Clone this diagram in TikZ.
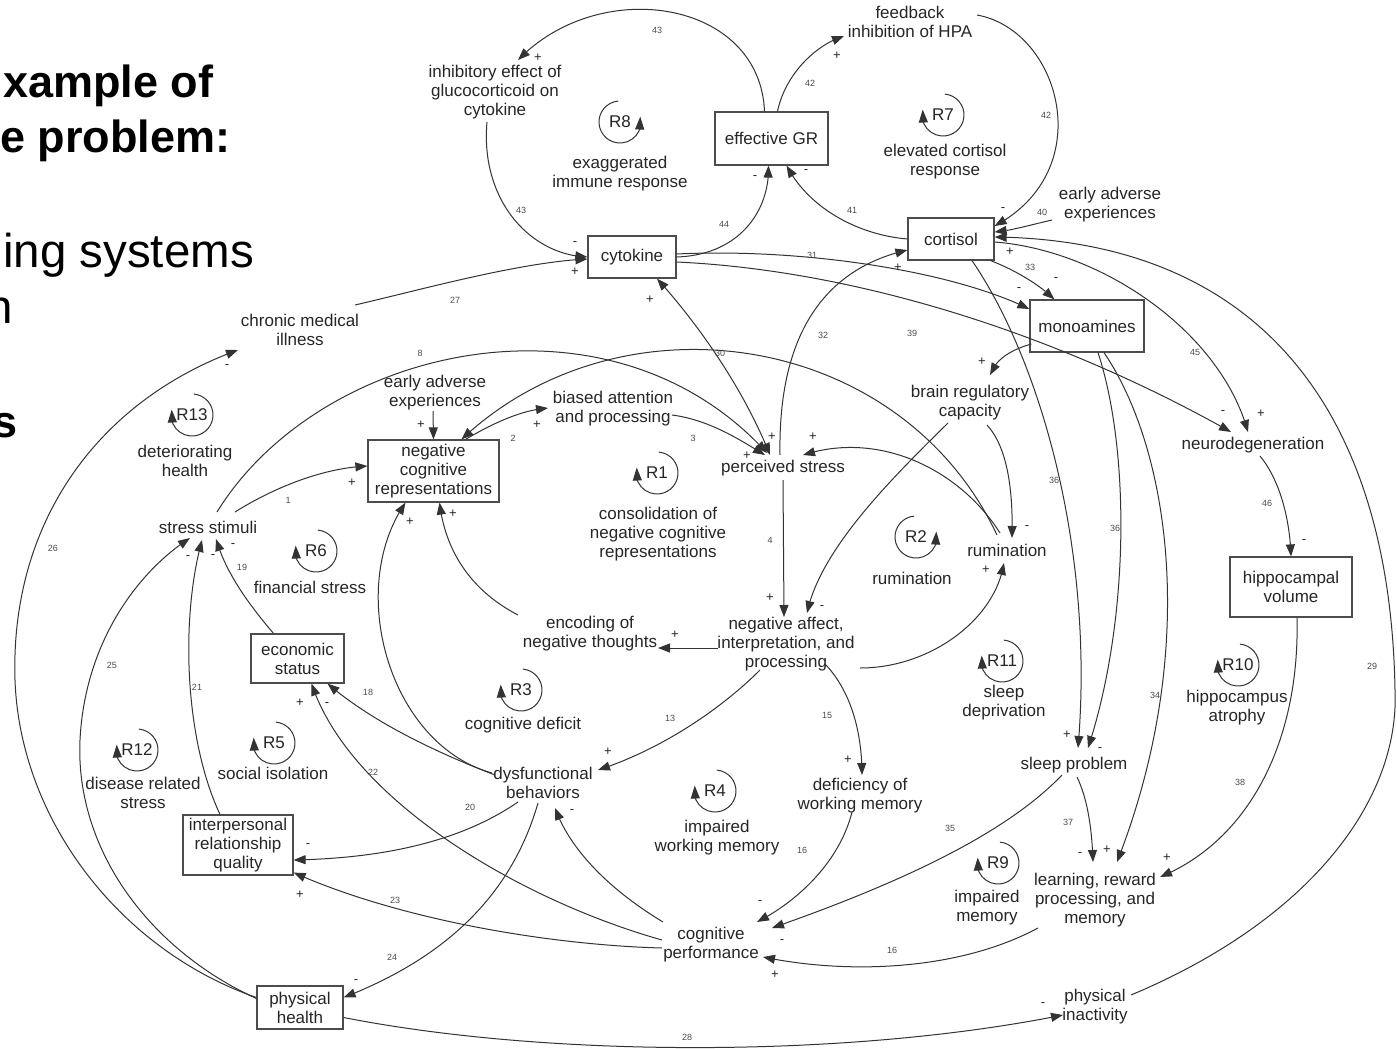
\documentclass[tikz,border=0pt]{standalone}
\usepackage{fontspec}
\setmainfont{Liberation Sans}
\usepackage{tikz}
\usetikzlibrary{arrows.meta,bending,calc}

\tikzset{
	var/.style={align=center,inner sep=1pt,font=\fontsize{17}{19}\selectfont,text=black!85},
	lvl/.style={var,draw=black!70,line width=1.2pt,fill=white,inner sep=0pt},
	link/.style={draw=black!80,line width=1pt,-{Triangle[length=12pt,width=9pt]}},
	twoway/.style={link,{Triangle[length=12pt,width=9pt]}-{Triangle[length=12pt,width=9pt]}},
	num/.style={inner sep=0pt,font=\fontsize{9}{9}\selectfont,text=black!70},
	pol/.style={inner sep=0pt,font=\fontsize{13}{13}\selectfont,text=black!85},
	loopname/.style={var,inner sep=0pt},
	looparrow/.style={draw=black!80,line width=1pt,-{Triangle[length=13pt,width=9pt,flex]}},
	headline/.style={anchor=base west,inner sep=0pt,font=\fontsize{47.5}{54}\selectfont},
	boldhead/.style={anchor=base west,inner sep=0pt,font=\fontsize{45}{54}\selectfont\bfseries}
}

\begin{document}
\begin{tikzpicture}[x=1pt,y=1pt]
	\useasboundingbox[fill=white] (0,0) rectangle (1397,-1049);

	\node[boldhead](T1) at (3,-97) {xample of};
	\node[boldhead](T2) at (0,-152) {e problem:};
	\node[headline](T3) at (3,-267) {ing systems};
	\node[headline](T4) at (-14,-323) {n};
	\node[boldhead](T5) at (-8,-437) {s};

	\node[var](FB) at (910,-22) {feedback\\inhibition of HPA};
	\node[var](IEG) at (495,-92) {inhibitory effect of\\glucocorticoid on\\cytokine};
	\node[lvl,minimum width=113,minimum height=53](EGR) at (771.5,-138.5) {effective GR};
	\node[var](EAE1) at (1110,-205) {early adverse\\experiences};
	\node[lvl,minimum width=86,minimum height=42](CORT) at (951,-239) {cortisol};
	\node[lvl,minimum width=88,minimum height=42](CYT) at (632,-257) {cytokine};
	\node[lvl,minimum width=114,minimum height=52](MONO) at (1087,-326) {monoamines};
	\node[var](CMI) at (300,-330) {chronic medical\\illness};
	\node[var](EAE2) at (435,-393) {early adverse\\experiences};
	\node[var](BAP) at (613,-409) {biased attention\\and processing};
	\node[lvl,minimum width=131,minimum height=62](NCR) at (433.5,-471) {negative\\cognitive\\representations};
	\node[var](PS) at (783,-468) {perceived stress};
	\node[var](BRC) at (970,-403) {brain regulatory\\capacity};
	\node[var](ND) at (1253,-445) {neurodegeneration};
	\node[var](SS) at (208,-527) {stress stimuli};
	\node[var](RUM) at (1007,-550) {rumination};
	\node[lvl,minimum width=122,minimum height=60](HV) at (1291,-587) {hippocampal\\volume};
	\node[lvl,minimum width=93,minimum height=49](ES) at (297.5,-658.5) {economic\\status};
	\node[var](ENT) at (590,-634) {encoding of\\negative thoughts};
	\node[var](NA) at (786,-644) {negative affect,\\interpretation, and\\processing};
	\node[var](DYS) at (543,-783) {dysfunctional\\behaviors};
	\node[var](DWM) at (860,-796) {deficiency of\\working memory};
	\node[var](SP) at (1074,-765) {sleep problem};
	\node[lvl,minimum width=110,minimum height=60](IRQ) at (238,-845) {interpersonal\\relationship\\quality};
	\node[var](LRM) at (1095,-900) {learning, reward\\processing, and\\memory};
	\node[var](CP) at (711,-945) {cognitive\\performance};
	\node[lvl,minimum width=86,minimum height=43](PH) at (300,-1007.5) {physical\\health};
	\node[var](PI) at (1095,-1007) {physical\\inactivity};

	\node[loopname](R8) at (620,-122) {R8};
	\node[loopname](R7) at (943,-115) {R7};
	\node[loopname](R13) at (192,-415) {R13};
	\node[loopname](R1) at (657,-473) {R1};
	\node[loopname](R6) at (316,-551) {R6};
	\node[loopname](R2) at (916,-537) {R2};
	\node[loopname](R11) at (1002,-661) {R11};
	\node[loopname](R10) at (1238,-665) {R10};
	\node[loopname](R3) at (521,-690) {R3};
	\node[loopname](R12) at (137,-750) {R12};
	\node[loopname](R5) at (274,-743) {R5};
	\node[loopname](R4) at (715,-791) {R4};
	\node[loopname](R9) at (998,-863) {R9};
	\foreach \r in {R8,R2}
		\draw[looparrow] ($(\r)+(95:21)$) arc[start angle=95,end angle=375,radius=21];
	\foreach \r in {R7,R13,R1,R6,R11,R10,R3,R12,R5,R4,R9}
		\draw[looparrow] ($(\r)+(85:21)$) arc[start angle=85,end angle=-195,radius=21];

	\node[var](L8) at (620,-174) {exaggerated\\immune response};
	\node[var](L7) at (945,-162) {elevated cortisol\\response};
	\node[var](L13) at (185,-461) {deteriorating\\health};
	\node[var](L1) at (658,-534) {consolidation of\\negative cognitive\\representations};
	\node[var](L6) at (310,-587) {financial stress};
	\node[var](L2) at (912,-578) {rumination};
	\node[var](L11) at (1004,-703) {sleep\\deprivation};
	\node[var](L10) at (1237,-708) {hippocampus\\atrophy};
	\node[var](L3) at (523,-725) {cognitive deficit};
	\node[var](L12) at (143,-793) {disease related\\stress};
	\node[var](L5) at (273,-773) {social isolation};
	\node[var](L4) at (717,-838) {impaired\\working memory};
	\node[var](L9) at (987,-908) {impaired\\memory};

	\draw[link] ($(EGR.north)+(-7,0)$) .. controls (760,0) and (600,25) .. ($(IEG)+(23,32)$);
	\draw[link] ($(IEG)+(-8,-30)$) .. controls (480,-200) and (530,-255) .. (CYT.west);
	\draw[link] (CYT.east) .. controls (740,-255) and (770,-210) .. ($(EGR.south)+(-3,0)$);
	\draw[link] ($(EGR.north)+(6,0)$) .. controls (785,-75) and (815,-45) .. ($(FB)+(-66,-14)$);
	\draw[link] ($(FB)+(67,7)$) .. controls (1060,-30) and (1100,-170) .. ($(CORT.east)+(0,13)$);
	\draw[link] ($(EAE1)+(-58,-15)$) .. controls (1030,-225) and (1010,-231) .. ($(CORT.east)+(0,7)$);
	\draw[link] (CORT.west) .. controls (860,-235) and (810,-210) .. ($(EGR.south)+(15,0)$);
	\draw[link] ($(CYT.east)+(0,3)$) .. controls (800,-248) and (950,-270) .. ($(MONO.west)+(0,17)$);
	\draw[link] ($(CYT.east)+(0,-5)$) .. controls (850,-270) and (1050,-330) .. ($(ND)+(-22,13)$);
	\draw[link] ($(CORT.south east)+(-4,0)$) .. controls (1015,-270) and (1040,-285) .. ($(MONO.north west)+(25,0)$);
	\draw[link] ($(CORT.east)+(0,-3)$) .. controls (1100,-250) and (1220,-330) .. ($(ND)+(-5,13)$);
	\draw[link] ($(PI)+(36,12)$) .. controls (1310,-920) and (1400,-800) .. (1395,-690) .. controls (1390,-400) and (1250,-240) .. ($(CORT.east)+(0,2)$);
	\draw[link] ($(ND)+(7,-11)$) .. controls (1280,-480) and (1290,-520) .. (HV.north);
	\draw[link] ($(HV.south)+(6,0)$) .. controls (1300,-740) and (1250,-840) .. ($(LRM)+(65,23)$);
	\draw[link] ($(CORT.south)+(21,0)$) .. controls (1040,-360) and (1095,-550) .. ($(SP)+(4,17)$);
	\draw[link] ($(MONO.south)+(11,0)$) .. controls (1130,-450) and (1130,-620) .. ($(SP)+(14,17)$);
	\draw[link] ($(MONO.south)+(17,0)$) .. controls (1170,-450) and (1200,-650) .. ($(LRM)+(22,38)$);
	\draw[link] ($(SP)+(3,-12)$) .. controls (1088,-800) and (1092,-830) .. ($(LRM)+(-2,38)$);
	\draw[link] ($(SP)+(-12,-10)$) .. controls (1000,-840) and (880,-890) .. ($(CP)+(61,17)$);
	\draw[link] ($(DWM)+(-8,-16)$) .. controls (840,-860) and (800,-900) .. ($(CP)+(46,23)$);
	\draw[link] ($(LRM)+(-57,-28)$) .. controls (960,-970) and (850,-975) .. ($(CP)+(52,-12)$);
	\draw[link] ($(NA)+(39,-20)$) .. controls (850,-690) and (862,-730) .. ($(DWM)+(2,21)$);
	\draw[link] ($(NA)+(-26,-26)$) .. controls (720,-710) and (660,-750) .. ($(DYS)+(55,13)$);
	\draw[link] ($(PS)+(0,-12)$) -- ($(NA)+(-2,27)$);
	\draw[link] ($(BRC)+(-22,-20)$) .. controls (890,-480) and (820,-550) .. ($(NA)+(21,31)$);
	\draw[link] ($(BRC)+(17,-22)$) .. controls (1010,-450) and (1013,-500) .. ($(RUM)+(5,12)$);
	\draw[link] ($(RUM)+(-7,17)$) .. controls (960,-470) and (880,-430) .. ($(PS)+(20,13)$);
	\draw[link] ($(RUM)+(-10,15)$) .. controls (900,-330) and (620,-290) .. ($(NCR.north)+(28,0)$);
	\draw[link] ($(SS)+(9,15)$) .. controls (320,-345) and (610,-280) .. ($(PS)+(-16,15)$);
	\draw[link] ($(BAP)+(59,-6)$) .. controls (710,-420) and (740,-440) .. ($(PS)+(-18,13)$);
	\draw[twoway] ($(CYT.south)+(25,0)$) .. controls (690,-315) and (740,-380) .. ($(PS)+(-13,13)$);
	\draw[link] ($(PS)+(-3,13)$) .. controls (778,-340) and (820,-270) .. ($(CORT.west)+(0,-11)$);
	\draw[link] ($(NCR.north)+(32,0)$) .. controls (490,-425) and (520,-410) .. ($(BAP)+(-65,1)$);
	\draw[link] ($(EAE2)+(-2,-18)$) -- (NCR.north);
	\draw[link] ($(SS)+(27,15)$) .. controls (270,-490) and (320,-468) .. ($(NCR.west)+(0,5)$);
	\draw[link] ($(ENT)+(-72,19)$) .. controls (470,-590) and (445,-550) .. ($(NCR.south)+(6,0)$);
	\draw[link] ($(DYS)+(-51,10)$) .. controls (390,-745) and (345,-590) .. ($(NCR.south)+(-28,0)$);
	\draw[link] ($(NA)+(-68,-4)$) -- ($(ENT)+(68,-14)$);
	\draw[link] ($(NA)+(74,-24)$) .. controls (930,-668) and (995,-620) .. ($(RUM)+(-3,-13)$);
	\draw[link] ($(MONO.west)+(2,-18)$) .. controls (1010,-350) and (995,-360) .. ($(BRC)+(20,28)$);
	\draw[link] ($(DYS)+(-48,8)$) .. controls (430,-750) and (370,-720) .. ($(ES.south)+(30,0)$);
	\draw[link] ($(CP)+(-49,5)$) .. controls (520,-900) and (350,-800) .. ($(ES.south)+(14,0)$);
	\draw[link] ($(ES.north)+(-24,0)$) .. controls (245,-600) and (225,-570) .. ($(SS)+(8,-12)$);
	\draw[link] ($(IRQ.north)+(-18,0)$) .. controls (185,-740) and (180,-620) .. ($(SS)+(-6,-13)$);
	\draw[link] ($(PH.west)+(0,9)$) .. controls (150,-950) and (75,-850) .. (80,-740) .. controls (85,-640) and (140,-570) .. ($(SS)+(-18,-11)$);
	\draw[link] ($(PH.west)+(0,10)$) .. controls (120,-950) and (20,-820) .. (15,-680) .. controls (10,-520) and (100,-400) .. ($(CMI)+(-62,-20)$);
	\draw[link] ($(CMI)+(55,25)$) .. controls (420,-290) and (520,-262) .. ($(CYT.west)+(0,-2)$);
	\draw[link] ($(DYS)+(-25,-19)$) .. controls (470,-835) and (400,-858) .. ($(IRQ.east)+(0,-15)$);
	\draw[link] ($(CP)+(-49,-3)$) .. controls (550,-945) and (400,-920) .. ($(IRQ.south east)+(0,3)$);
	\draw[link] ($(DYS)+(-5,-20)$) .. controls (510,-900) and (440,-960) .. ($(PH.east)+(0,10)$);
	\draw[link] ($(CP)+(-48,23)$) .. controls (610,-890) and (570,-850) .. ($(DYS)+(12,-25)$);
	\draw[link] ($(PH.east)+(0,-10)$) .. controls (550,-1058) and (850,-1058) .. ($(PI)+(-32,-8)$);

	\foreach \x/\y/\t in {657/30/43,521/210/43,724/224/44,810/83/42,1046/115/42,1042/212/40,852/210/41,
		812/255/31,912/333/39,1030/267/33,1195/352/45,1372/666/29,1267/503/46,1240/782/38,1054/480/36,
		1115/528/36,1155/695/34,1068/822/37,950/828/35,802/850/16,892/950/16,827/715/15,670/718/13,
		770/540/4,420/353/8,693/438/3,720/353/30,823/335/32,513/438/2,288/500/1,368/692/18,373/772/22,
		242/567/19,197/687/21,112/665/25,53/548/26,455/300/27,470/807/20,395/900/23,392/957/24,687/1037/28}
		\node[num](n\x-\y) at (\x,-\y) {\t};
	\foreach \x/\y/\s in {538/58/+,575/244/-,755/178/-,837/56/+,1003/210/-,806/172/-,1019/290/-,1223/413/-,
		1056/280/-,1010/252/+,1261/414/+,1304/542/-,1167/858/+,1067/735/+,1100/750/-,1107/850/+,1080/855/-,
		782/942/-,760/903/-,775/975/+,848/760/+,608/752/+,770/598/+,822/608/-,1027/528/-,813/437/+,772/437/+,
		747/456/+,650/300/+,898/268/+,537/425/+,421/425/+,352/483/+,453/514/+,410/522/+,675/635/+,986/570/+,
		982/362/+,327/705/-,300/703/+,233/546/-,213/557/-,188/558/-,227/367/-,575/272/+,308/846/-,300/895/+,
		356/982/-,572/812/-,1043/1005/-}
		\node[pol](s\x-\y) at (\x,-\y) {\s};
\end{tikzpicture}
\end{document}
